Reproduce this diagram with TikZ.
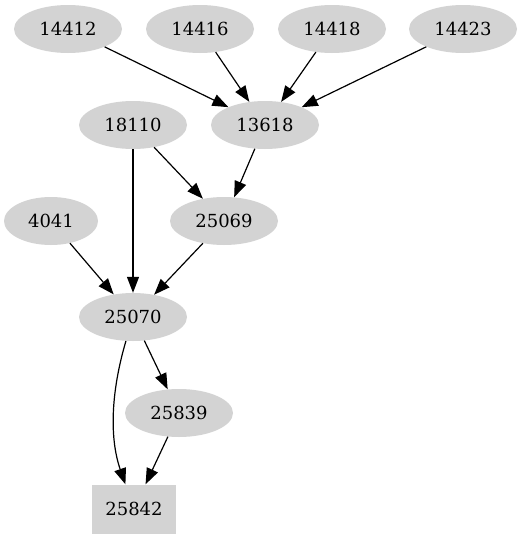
\documentclass[tikz,border=0pt]{standalone}
\usepackage{fontspec}
\setmainfont{DejaVu Serif}
\usetikzlibrary{shapes.geometric,arrows.meta}
\begin{document}
\begin{tikzpicture}[x=1pt,y=-1pt,
  nd/.style={ellipse,fill={rgb,255:red,211;green,211;blue,211},inner sep=0pt,minimum width=108pt,minimum height=48pt,font=\fontsize{18}{20}\selectfont},
  bx/.style={rectangle,fill={rgb,255:red,211;green,211;blue,211},inner sep=0pt,minimum width=84pt,minimum height=49pt,font=\fontsize{18}{20}\selectfont},
  ed/.style={line width=1.2pt,-{Triangle[length=16pt,width=12pt]}}]
\useasboundingbox (0,0) rectangle (524,539);
\node[nd] (a14412) at (68,29) {14412};
\node[nd] (a14416) at (200,29) {14416};
\node[nd] (a14418) at (332,29) {14418};
\node[nd] (a14423) at (463,29) {14423};
\node[nd] (a18110) at (133,125) {18110};
\node[nd] (a13618) at (265,125) {13618};
\node[nd,minimum width=94pt] (a4041) at (51,221) {4041};
\node[nd] (a25069) at (224,221) {25069};
\node[nd] (a25070) at (133,317) {25070};
\node[nd] (a25839) at (179,413) {25839};
\node[bx] (a25842) at (134,509) {25842};
\draw[ed] (a14412) -- (a13618);
\draw[ed] (a14416) -- (a13618);
\draw[ed] (a14418) -- (a13618);
\draw[ed] (a14423) -- (a13618);
\draw[ed] (a18110) -- (a25069);
\draw[ed] (a13618) -- (a25069);
\draw[ed] (a18110) -- (a25070);
\draw[ed] (a4041) -- (a25070);
\draw[ed] (a25069) -- (a25070);
\draw[ed] (a25070) -- (a25839);
\draw[ed] (a25839) -- (a25842);
\draw[ed] (a25070) .. controls (110,395) and (110,440) .. (a25842);
\end{tikzpicture}
\end{document}
